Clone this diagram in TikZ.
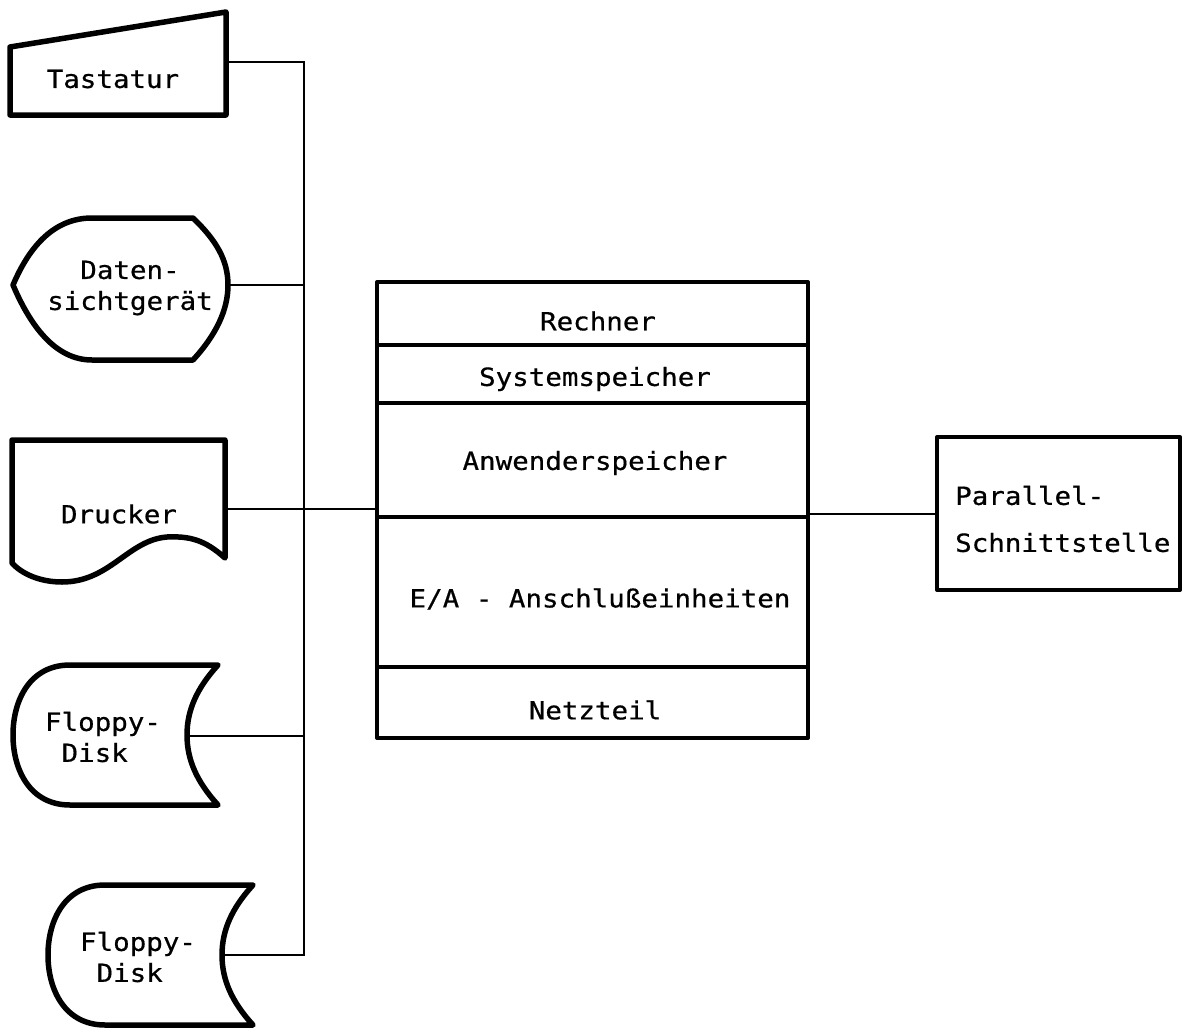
\documentclass[tikz,border=0pt]{standalone}
\usepackage{fontspec}
\setmonofont[FakeStretch=1.1,FakeBold=0.6]{DejaVu Sans Mono}
\begin{document}
\begin{tikzpicture}[x=1pt,y=-1pt,
  shapeline/.style={line width=5.5pt,line join=round,line cap=round},
  boxline/.style={line width=4pt,line join=round},
  divline/.style={line width=3.5pt},
  conn/.style={line width=2.5pt},
  lbl/.style={font=\fontsize{25}{31}\selectfont\ttfamily,inner sep=0pt,align=center},
]
\useasboundingbox (0,0) rectangle (1187,1028);

% Tastatur (manual input)
\draw[shapeline] (10,47) -- (226,12) -- (226,115) -- (10,115) -- cycle;
\node[lbl] (tast) at (113,79) {Tastatur};
\coordinate (tastR) at (226,62);

% Datensichtgeraet (display)
\draw[shapeline] (13,285) .. controls (30,245) and (55,218) .. (92,218) -- (193,218)
  .. controls (216,240) and (228,260) .. (228,285)
  .. controls (228,310) and (216,335) .. (193,360) -- (92,360)
  .. controls (55,360) and (30,325) .. (13,285) -- cycle;
\node[lbl] (dsg) at (130,288) {Daten-\\sichtgerät};
\coordinate (dsgR) at (228,285);

% Drucker (document)
\draw[shapeline] (12,440) -- (225,440) -- (225,558)
  .. controls (205,540) and (190,536) .. (167,537)
  .. controls (128,540) and (110,582) .. (62,582)
  .. controls (40,582) and (22,574) .. (12,563) -- cycle;
\node[lbl] (druck) at (119,514) {Drucker};
\coordinate (druckR) at (225,509);

% Floppy-Disk 1
\draw[shapeline] (218,665) -- (70,665) .. controls (30,665) and (13,700) .. (13,735)
  .. controls (13,770) and (30,805) .. (70,805) -- (218,805)
  .. controls (197,782) and (187,760) .. (187,735)
  .. controls (187,710) and (197,688) .. (218,665) -- cycle;
\node[lbl,align=left] (fd1) at (103,737) {Floppy-\\\hphantom{F}Disk};
\coordinate (fd1R) at (187,736);

% Floppy-Disk 2
\begin{scope}[shift={(35,220)}]
\draw[shapeline] (218,665) -- (70,665) .. controls (30,665) and (13,700) .. (13,735)
  .. controls (13,770) and (30,805) .. (70,805) -- (218,805)
  .. controls (197,782) and (187,760) .. (187,735)
  .. controls (187,710) and (197,688) .. (218,665) -- cycle;
\end{scope}
\node[lbl,align=left] (fd2) at (138,957) {Floppy-\\\hphantom{F}Disk};
\coordinate (fd2R) at (222,955);

% bus
\coordinate (b1) at (304,62);
\coordinate (b2) at (304,285);
\coordinate (b4) at (304,736);
\coordinate (b5) at (304,955);

% main unit
\draw[boxline] (377,282) rectangle (808,738);
\draw[divline] (377,345) -- (808,345);
\draw[divline] (377,403) -- (808,403);
\draw[divline] (377,517) -- (808,517);
\draw[divline] (377,667) -- (808,667);
\node[lbl] (rech) at (598,321) {Rechner};
\node[lbl] (sys) at (595,379) {Systemspeicher};
\node[lbl] (anw) at (595,463) {Anwenderspeicher};
\node[lbl] (ea) at (600,599) {E/A - Anschlußeinheiten};
\node[lbl] (netz) at (595,710) {Netzteil};
\coordinate (mainL) at (377,509);
\coordinate (mainR) at (808,514);

% Parallel-Schnittstelle
\draw[boxline] (937,437) rectangle (1180,590);
\node[lbl,align=left,font=\fontsize{25}{47}\selectfont\ttfamily,anchor=west] (par) at (955,519) {Parallel-\\Schnittstelle};
\coordinate (parL) at (937,514);

% connectors
\draw[conn] (tastR) -- (b1) -- (b5) -- (fd2R);
\draw[conn] (dsgR) -- (b2);
\draw[conn] (druckR) -- (mainL);
\draw[conn] (fd1R) -- (b4);
\draw[conn] (mainR) -- (parL);
\end{tikzpicture}
\end{document}
